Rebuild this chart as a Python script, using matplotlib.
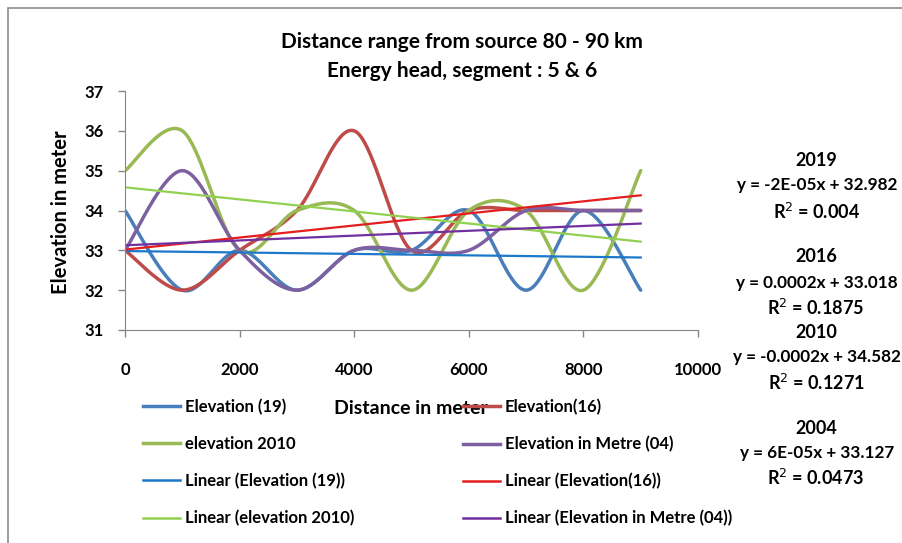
import numpy as np
import matplotlib
matplotlib.use('Agg')
import matplotlib.pyplot as plt
from matplotlib.lines import Line2D
from matplotlib.patches import Rectangle

plt.rcParams['font.family'] = ['Lato', 'DejaVu Sans']

distance = [0, 1000, 2000, 3000, 4000, 5000, 6000, 7000, 8000, 9000]
elev_19 = [34, 32, 33, 32, 33, 33, 34, 32, 34, 32]
elev_16 = [33, 32, 33, 34, 36, 33, 34, 34, 34, 34]
elev_2010 = [35, 36, 33, 34, 34, 32, 34, 34, 32, 35]
elev_04 = [33, 35, 33, 32, 33, 33, 33, 34, 34, 34]

# trend line coefficients (slope per metre, intercept) as labelled
trend_slope = [-1.8e-05, 1.515e-04, -1.515e-04, 6.06e-05]
trend_icpt = [32.982, 33.018, 34.582, 33.127]

names = ['Elevation (19)', 'Elevation(16)', 'elevation 2010', 'Elevation in Metre (04)']
colors = ['#4A7EBB', '#BE4B48', '#98B954', '#7D60A0']
trend_colors = ['#1C78C8', '#E41E1E', '#92D050', '#7030A0']

eq_years = ['2019', '2016', '2010', '2004']
eq_text = ['y = -2E-05x + 32.982', 'y = 0.0002x + 33.018',
           'y = -0.0002x + 34.582', 'y = 6E-05x + 33.127']
eq_r2 = ['0.004', '0.1875', '0.1271', '0.0473']


def smooth(xs, ys, n=40):
    # excel-like smoothed line (catmull-rom through bezier)
    p = np.column_stack([xs, ys]).astype(float)
    p = np.vstack([p[0], p, p[-1]])
    out = []
    t = np.linspace(0, 1, n)[:, None]
    for i in range(1, len(p) - 2):
        p0, p1, p2, p3 = p[i - 1], p[i], p[i + 1], p[i + 2]
        c1 = p1 + (p2 - p0) / 6
        c2 = p2 - (p3 - p1) / 6
        seg = ((1 - t) ** 3) * p1 + 3 * ((1 - t) ** 2) * t * c1 + 3 * (1 - t) * t ** 2 * c2 + t ** 3 * p2
        out.append(seg)
    out = np.vstack(out)
    return out[:, 0], out[:, 1]


fig = plt.figure(figsize=(9.02, 5.43), dpi=100)
fig.patches.append(Rectangle((8 / 902, -0.1), 1.2, (543 - 8) / 543 + 0.1, transform=fig.transFigure,
                             fill=False, edgecolor='#8c8c8c', linewidth=1.2))

ax = fig.add_axes([125 / 902, 213 / 543, 573 / 902, 239 / 543])
series = [elev_19, elev_16, elev_2010, elev_04]
handles = []
for ys, c, nm in zip(series, colors, names):
    sx, sy = smooth(distance, ys)
    ax.plot(sx, sy, color=c, lw=2.5, solid_capstyle='round')
    handles.append(Line2D([], [], color=c, lw=2.5, label=nm))
xt = np.array([distance[0], distance[-1]])
for m, b, c, nm in zip(trend_slope, trend_icpt, trend_colors, names):
    ax.plot(xt, m * xt + b, color=c, lw=1.6)
    handles.append(Line2D([], [], color=c, lw=1.8, label='Linear (' + nm + ')'))

ax.set_xlim(0, 10000)
ax.set_ylim(31, 37)
ax.set_xticks(range(0, 10001, 2000))
ax.set_yticks(range(31, 38))
for s in ['top', 'right']:
    ax.spines[s].set_visible(False)
for s in ['left', 'bottom']:
    ax.spines[s].set_color('#868686')
ax.tick_params(colors='#868686', length=5, width=1, labelcolor='black', labelsize=12)
ax.tick_params(axis='x', pad=18)
ax.tick_params(axis='y', pad=10)
for lb in ax.get_xticklabels() + ax.get_yticklabels():
    lb.set_fontweight('bold')

fig.text(462 / 902, 1 - 42 / 543, 'Distance range from source 80 - 90 km', ha='center', va='center',
         fontsize=15, fontweight='bold')
fig.text(462 / 902, 1 - 71 / 543, 'Energy head, segment : 5 & 6', ha='center', va='center',
         fontsize=15, fontweight='bold')
fig.text(61 / 902, 1 - 212 / 543, 'Elevation in meter', rotation=90, ha='center', va='center',
         fontsize=14.5, fontweight='bold')
fig.text(411 / 902, 1 - 409 / 543, 'Distance in meter', ha='center', va='center',
         fontsize=14, fontweight='bold')

col1 = [handles[0], handles[2], handles[4], handles[6]]
col2 = [handles[1], handles[3], handles[5], handles[7]]
for col, x0 in [(col1, 143), (col2, 463)]:
    lg = fig.legend(handles=col, loc='upper left', bbox_to_anchor=(x0 / 902, 1 - 399 / 543),
                    frameon=False, fontsize=12, handlelength=2.2, handletextpad=0.3,
                    labelspacing=1.25, borderaxespad=0, borderpad=0)
    for t in lg.get_texts():
        t.set_fontweight('bold')

ys_pos = [(160, 185, 212), (257, 283, 308), (332, 357, 383), (428, 453, 478)]
for yr, eq, r2, (y1, y2, y3) in zip(eq_years, eq_text, eq_r2, ys_pos):
    fig.text(816 / 902, 1 - y1 / 543, yr, ha='center', va='center', fontsize=13, fontweight='bold')
    fig.text(817 / 902, 1 - y2 / 543, eq, ha='center', va='center', fontsize=12.3, fontweight='bold')
    fig.text(816 / 902, 1 - y3 / 543, 'R$^{2}$ = ' + r2, ha='center', va='center', fontsize=13,
             fontweight='bold')

fig.savefig('out.png', dpi=100)
